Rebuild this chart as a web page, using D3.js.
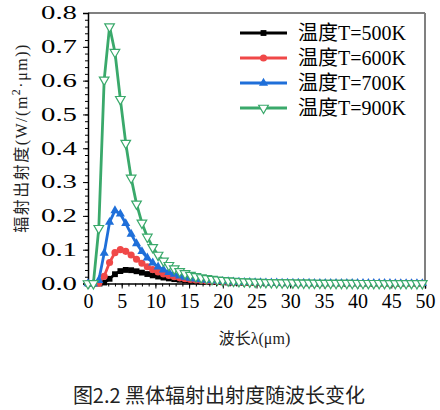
<!DOCTYPE html>
<html>
<head>
<meta charset="utf-8">
<script src="https://cdn.jsdelivr.net/npm/d3@7/dist/d3.min.js"></script>
<style>
  body { margin: 0; background: #fff; }
  .tick text { font-family: "Liberation Serif", "Times New Roman", "DejaVu Serif", serif; fill: #000; }
  .serif { font-family: "Liberation Serif", "Times New Roman", "DejaVu Serif", "Noto Sans CJK SC", serif; }
</style>
</head>
<body>
<div id="chart"></div>
<script>
// wavelength in um, one sample every 0.8 um
const wavelength = [0, 0.8, 1.6, 2.4, 3.2, 4.0, 4.8, 5.6, 6.4, 7.2, 8.0, 8.8, 9.6, 10.4, 11.2, 12.0,
  12.8, 13.6, 14.4, 15.2, 16.0, 16.8, 17.6, 18.4, 19.2, 20.0, 20.8, 21.6, 22.4, 23.2, 24.0, 24.8,
  25.6, 26.4, 27.2, 28.0, 28.8, 29.6, 30.4, 31.2, 32.0, 32.8, 33.6, 34.4, 35.2, 36.0, 36.8, 37.6,
  38.4, 39.2, 40.0, 40.8, 41.6, 42.4, 43.2, 44.0, 44.8, 45.6, 46.4, 47.2, 48.0, 48.8, 49.6];

const t500 = [0, 0, 0.0001, 0.0029, 0.0139, 0.0275, 0.0367, 0.0401, 0.0393, 0.0362, 0.0322, 0.0280,
  0.0241, 0.0206, 0.0176, 0.0150, 0.0129, 0.0110, 0.0095, 0.0082, 0.0071, 0.0062, 0.0054, 0.0047,
  0.0041, 0.0036, 0.0032, 0.0029, 0.0025, 0.0023, 0.0020, 0.0018, 0.0016, 0.0015, 0.0013, 0.0012,
  0.0011, 0.0010, 0.0009, 0.0008, 0.0008, 0.0007, 0.0006, 0.0006, 0.0006, 0.0005, 0.0005, 0.0004,
  0.0004, 0.0004, 0.0004, 0.0003, 0.0003, 0.0003, 0.0003, 0.0003, 0.0002, 0.0002, 0.0002, 0.0002,
  0.0002, 0.0002, 0.0002];

const t600 = [0, 0, 0.0011, 0.0215, 0.0621, 0.0913, 0.1000, 0.0952, 0.0842, 0.0718, 0.0600, 0.0497,
  0.0411, 0.0341, 0.0283, 0.0236, 0.0198, 0.0167, 0.0141, 0.0120, 0.0103, 0.0088, 0.0076, 0.0066,
  0.0058, 0.0051, 0.0044, 0.0039, 0.0035, 0.0031, 0.0027, 0.0025, 0.0022, 0.0020, 0.0018, 0.0016,
  0.0015, 0.0013, 0.0012, 0.0011, 0.0010, 0.0009, 0.0008, 0.0008, 0.0007, 0.0007, 0.0006, 0.0006,
  0.0005, 0.0005, 0.0005, 0.0004, 0.0004, 0.0004, 0.0003, 0.0003, 0.0003, 0.0003, 0.0003, 0.0002,
  0.0002, 0.0002, 0.0002];

const t700 = [0, 0, 0.0094, 0.0897, 0.1814, 0.2156, 0.2057, 0.1776, 0.1463, 0.1181, 0.0947, 0.0759,
  0.0611, 0.0495, 0.0403, 0.0331, 0.0274, 0.0228, 0.0191, 0.0161, 0.0137, 0.0117, 0.0100, 0.0086,
  0.0075, 0.0065, 0.0057, 0.0050, 0.0044, 0.0039, 0.0035, 0.0031, 0.0028, 0.0025, 0.0022, 0.0020,
  0.0018, 0.0016, 0.0015, 0.0014, 0.0012, 0.0011, 0.0010, 0.0010, 0.0009, 0.0008, 0.0007, 0.0007,
  0.0006, 0.0006, 0.0005, 0.0005, 0.0005, 0.0004, 0.0004, 0.0004, 0.0004, 0.0003, 0.0003, 0.0003,
  0.0003, 0.0003, 0.0002];

const t900 = [0, 0.0002, 0.1633, 0.6023, 0.7596, 0.6840, 0.5448, 0.4150, 0.3123, 0.2355, 0.1791, 0.1376,
  0.1070, 0.0842, 0.0670, 0.0539, 0.0438, 0.0359, 0.0297, 0.0248, 0.0208, 0.0176, 0.0150, 0.0128,
  0.0110, 0.0095, 0.0083, 0.0073, 0.0064, 0.0056, 0.0050, 0.0044, 0.0039, 0.0035, 0.0031, 0.0028,
  0.0025, 0.0023, 0.0021, 0.0019, 0.0017, 0.0016, 0.0014, 0.0013, 0.0012, 0.0011, 0.0010, 0.0009,
  0.0009, 0.0008, 0.0007, 0.0007, 0.0006, 0.0006, 0.0006, 0.0005, 0.0005, 0.0005, 0.0004, 0.0004,
  0.0004, 0.0003, 0.0003];

const seriesNames = ["温度T=500K", "温度T=600K", "温度T=700K", "温度T=900K"];
const seriesValues = [t500, t600, t700, t900];
const seriesColors = ["#000000", "#f04848", "#1f6fd9", "#3aa96b"];

const xTicks = [0, 5, 10, 15, 20, 25, 30, 35, 40, 45, 50];
const yTicks = [0, 0.1, 0.2, 0.3, 0.4, 0.5, 0.6, 0.7, 0.8];

const margin = {top: 13, right: 15, bottom: 126.5, left: 88},
  width = 440 - margin.left - margin.right,
  height = 410 - margin.top - margin.bottom;

const svgRoot = d3.select("#chart")
  .append("svg")
  .attr("width", 440)
  .attr("height", 410);

const svg = svgRoot.append("g")
  .attr("transform", `translate(${margin.left}, ${margin.top})`);

const x = d3.scaleLinear().domain([0, 50]).range([0, width]);
const y = d3.scaleLinear().domain([0, 0.8]).range([height, 0]);

// frame: grey top and right border
svg.append("line")
  .attr("x1", 0).attr("x2", width).attr("y1", 0).attr("y2", 0)
  .style("stroke", "#808080").style("stroke-width", 2);
svg.append("line")
  .attr("x1", width).attr("x2", width).attr("y1", 0).attr("y2", height)
  .style("stroke", "#808080").style("stroke-width", 2);

// minor ticks
svg.append("g")
  .call(d3.axisLeft(y).ticks(40).tickSize(3).tickFormat(""))
  .call(g => g.select(".domain").remove());
svg.append("g")
  .attr("transform", `translate(0, ${height})`)
  .call(d3.axisBottom(x).ticks(50).tickSize(3).tickFormat(""))
  .call(g => g.select(".domain").remove());

// Y axis
const yAxis = svg.append("g")
  .call(d3.axisLeft(y).tickValues(yTicks).tickSize(5).tickPadding(6).tickFormat(d3.format(".1f")));
yAxis.select(".domain").style("stroke-width", 1.5);
yAxis.selectAll(".tick text")
  .style("font-size", "18px")
  .attr("textLength", 36)
  .attr("lengthAdjust", "spacingAndGlyphs");

// X axis
const xAxis = svg.append("g")
  .attr("transform", `translate(0, ${height})`)
  .call(d3.axisBottom(x).tickValues(xTicks).tickSize(5).tickPadding(5));
xAxis.select(".domain").style("stroke-width", 1.5);
xAxis.selectAll(".tick text").style("font-size", "20px");

// axis titles
svg.append("text")
  .attr("class", "serif")
  .attr("x", width / 2 - 2)
  .attr("y", height + 60)
  .attr("text-anchor", "middle")
  .style("font-size", "16px")
  .style("fill", "#222")
  .text("波长λ(μm)");

svgRoot.append("text")
  .attr("class", "serif")
  .attr("transform", "translate(27, 138) rotate(-90)")
  .attr("text-anchor", "middle")
  .style("font-size", "16px")
  .style("letter-spacing", "1.5px")
  .style("fill", "#222")
  .html("辐射出射度(W/(m<tspan dy='-7' font-size='12px'>2</tspan><tspan dy='7'>·μm))</tspan>");

const symbols = [
  d3.symbol(d3.symbolSquare, 34),
  d3.symbol(d3.symbolCircle, 40),
  d3.symbol(d3.symbolTriangle, 36),
  d3.symbol(d3.symbolTriangle, 40)
];

// curves with markers
seriesValues.forEach(function(vals, s) {
  const color = seriesColors[s];
  svg.append("path")
    .datum(vals)
    .attr("fill", "none")
    .attr("stroke", color)
    .attr("stroke-width", 2.8)
    .attr("stroke-linejoin", "round")
    .attr("d", d3.line().x((d, i) => x(wavelength[i])).y(d => y(d)));

  svg.append("g")
    .selectAll("path")
    .data(vals)
    .join("path")
    .attr("d", symbols[s])
    .attr("transform", function(d, i) {
      const rot = s === 3 ? " rotate(180)" : "";
      return `translate(${x(wavelength[i])}, ${y(d)})` + rot;
    })
    .style("fill", s === 3 ? "#fff" : color)
    .style("stroke", s === 3 ? color : "none")
    .style("stroke-width", 1.2);
});

// legend
const legend = svgRoot.append("g");
seriesNames.forEach(function(name, s) {
  const ly = 33 + s * 25;
  legend.append("line")
    .attr("x1", 240).attr("x2", 287).attr("y1", ly).attr("y2", ly)
    .style("stroke", seriesColors[s]).style("stroke-width", 2.8);
  legend.append("path")
    .attr("d", symbols[s])
    .attr("transform", `translate(263.5, ${ly})` + (s === 3 ? " rotate(180)" : ""))
    .style("fill", s === 3 ? "#fff" : seriesColors[s])
    .style("stroke", s === 3 ? seriesColors[s] : "none")
    .style("stroke-width", 1.2);
  legend.append("text")
    .attr("class", "serif")
    .attr("x", 298)
    .attr("y", ly)
    .attr("dy", "0.36em")
    .style("font-size", "20px")
    .text(name);
});

// figure caption
svgRoot.append("text")
  .attr("x", 219)
  .attr("y", 403)
  .attr("text-anchor", "middle")
  .style("font-family", "'Noto Sans CJK SC'")
  .style("font-size", "20px")
  .style("fill", "#222")
  .text("图2.2 黑体辐射出射度随波长变化");
</script>
</body>
</html>
